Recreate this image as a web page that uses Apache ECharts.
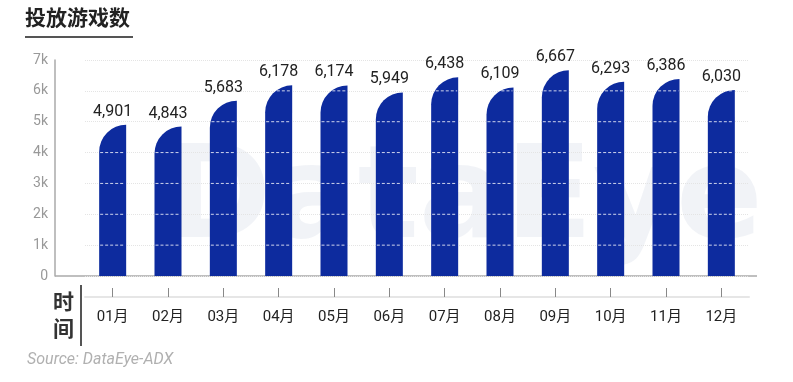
<!DOCTYPE html>
<html>
<head>
<meta charset="utf-8">
<script src="https://cdn.jsdelivr.net/npm/echarts@6/dist/echarts.min.js"></script>
<style>
html,body{margin:0;padding:0;background:#fff;}
#chart{width:793px;height:382px;}
</style>
</head>
<body>
<div id="chart"></div>
<script>
const categories = ['01月','02月','03月','04月','05月','06月','07月','08月','09月','10月','11月','12月'];
const values = [4901, 4843, 5683, 6178, 6174, 5949, 6438, 6109, 6667, 6293, 6386, 6030];
const yMax = 7000;
const yStep = 1000;
const titleText = '投放游戏数';
const axisNameChars = ['时', '间'];
const sourceText = 'Source: DataEye-ADX';

const BAR_W = 27;
const BAR_COLOR = '#0d2b9e';

const chart = echarts.init(document.getElementById('chart'), null, {renderer: 'canvas'});

function gridLinesOnBar(params, api) {
  const idx = api.value(0);
  const val = api.value(1);
  const top = api.coord([idx, val]);
  const xl = top[0] - BAR_W / 2, xr = top[0] + BAR_W / 2;
  const r = BAR_W;
  const children = [];
  for (let k = yStep; k < val; k += yStep) {
    const y = api.coord([idx, k])[1];
    const dy = top[1] + r - y;
    let xs = xl;
    if (dy > 0) xs = xl + r - Math.sqrt(Math.max(0, r * r - dy * dy));
    if (xs < xr - 3) {
      children.push({
        type: 'line',
        shape: {x1: xs + 1, y1: y, x2: xr - 1, y2: y},
        style: {stroke: 'rgba(255,255,255,0.8)', lineWidth: 1, lineDash: [3, 2]}
      });
    }
  }
  return {type: 'group', children};
}

const option = {
  backgroundColor: '#ffffff',
  animation: false,
  grid: {left: 85, right: 44, top: 60, bottom: 106, containLabel: false},
  xAxis: [
    {
      type: 'category',
      data: categories,
      axisLine: {show: false},
      axisTick: {show: false},
      axisLabel: {show: false},
      splitLine: {show: false}
    },
    {
      type: 'category',
      data: categories,
      position: 'bottom',
      offset: 21,
      axisLine: {show: true, lineStyle: {color: '#e6e6e6', width: 2}},
      axisTick: {show: true, inside: true, length: 9, alignWithLabel: true, lineStyle: {color: '#888', width: 1}},
      axisLabel: {color: '#222', fontSize: 15, margin: 13, fontFamily: 'Roboto, "Noto Sans CJK SC", sans-serif'},
      splitLine: {show: false}
    }
  ],
  yAxis: {
    type: 'value',
    min: 0,
    max: yMax,
    interval: yStep,
    offset: 30,
    axisLine: {show: true, lineStyle: {color: '#aaa', width: 1.5}},
    axisTick: {show: false},
    axisLabel: {
      color: '#999', fontSize: 14, margin: 7, padding: [0, 0, 8, 0],
      fontFamily: 'Roboto, sans-serif',
      formatter: v => v === 0 ? '0' : (v / 1000) + 'k'
    },
    splitLine: {show: true, lineStyle: {color: '#e4e4e4', type: 'dotted', width: 1}}
  },
  graphic: [
    {type: 'text', left: 165, top: 140, z: -10, silent: true,
      style: {text: 'DataEye', fill: 'rgba(225,229,238,0.45)', font: 'bold 128px "DejaVu Sans", sans-serif'}},
    {type: 'text', left: 25, top: 7, style: {text: titleText, fill: '#222', font: 'bold 21px "Noto Sans CJK SC", sans-serif'}},
    {type: 'line', shape: {x1: 25, y1: 37, x2: 133, y2: 37}, style: {stroke: '#555', lineWidth: 2}},
    {type: 'line', shape: {x1: 55, y1: 276, x2: 757, y2: 276}, style: {stroke: '#aaa', lineWidth: 1.5}},
    {type: 'text', left: 53, top: 291, style: {text: axisNameChars[0], fill: '#333', font: 'bold 21px "Noto Sans CJK SC", sans-serif'}},
    {type: 'text', left: 53, top: 318, style: {text: axisNameChars[1], fill: '#333', font: 'bold 21px "Noto Sans CJK SC", sans-serif'}},
    {type: 'line', shape: {x1: 81, y1: 285, x2: 81, y2: 346}, style: {stroke: '#555', lineWidth: 2}},
    {type: 'text', left: 27, top: 352, style: {text: sourceText, fill: '#b0b0b0', font: 'italic 16px Roboto, sans-serif'}}
  ],
  series: [
    {
      type: 'bar',
      data: values,
      xAxisIndex: 0,
      barWidth: BAR_W,
      itemStyle: {color: BAR_COLOR, borderRadius: [BAR_W, 0, 0, 0]},
      label: {
        show: true, position: 'top', distance: 5,
        color: '#222', fontSize: 16, fontFamily: 'Roboto, sans-serif',
        formatter: p => p.value.toLocaleString('en-US')
      },
      z: 2
    },
    {
      type: 'custom',
      xAxisIndex: 0,
      silent: true,
      data: values.map((v, i) => [i, v]),
      renderItem: gridLinesOnBar,
      z: 3
    }
  ]
};
chart.setOption(option);
</script>
</body>
</html>
